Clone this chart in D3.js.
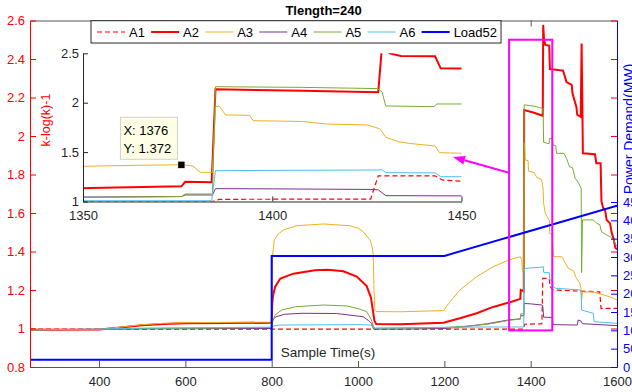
<!DOCTYPE html>
<html>
<head>
<meta charset="utf-8">
<script src="https://cdn.jsdelivr.net/npm/d3@7"></script>
<style>
  body { margin: 0; background: #fff; }
  svg { display: block; font-family: "Liberation Sans", Arial, sans-serif; }
</style>
</head>
<body>
<svg id="chart" width="632" height="392"></svg>
<script>
// series values, [sample time, value]
const a1 = [[240,0.997],[1384,0.997],[1386,1.022],[1426,1.025],[1428,1.26],[1443,1.26],[1445,1.218],[1452,1.2],
  [1560,1.19],[1563,1.105],[1600,1.105]];
const a2 = [[240,0.993],[400,0.995],[450,1.005],[500,1.017],[550,1.024],[600,1.027],[700,1.028],[800,1.03],
  [801,1.12],[803,1.17],[808,1.217],[820,1.26],[850,1.285],[900,1.302],[930,1.305],[966,1.297],[997,1.27],
  [1020,1.22],[1030,1.16],[1034,1.1],[1038,1.04],[1042,1.023],[1100,1.022],[1198,1.03],[1236,1.053],
  [1275,1.079],[1313,1.112],[1352,1.136],[1376,1.154],[1377,1.2],[1384,1.194],[1385,2.135],[1408,2.121],
  [1428,2.105],[1429,2.577],[1431,2.5],[1434,2.473],[1443,2.47],[1444.5,2.348],[1475,2.34],[1483,2.28],
  [1495,2.265],[1497,2.22],[1506,2.15],[1508,2.11],[1516,2.1],[1518,2.48],[1521,1.91],[1549,1.905],
  [1552,1.858],[1562,1.858],[1564,1.66],[1568,1.625],[1572,1.62],[1576,1.564],[1584,1.546],[1588,1.494],
  [1592,1.468],[1596,1.42],[1600,1.41]];
const a3 = [[240,0.993],[400,0.995],[450,1.007],[500,1.02],[550,1.027],[600,1.03],[700,1.032],[800,1.033],
  [801,1.25],[802,1.38],[806,1.46],[815,1.49],[827,1.512],[858,1.534],[920,1.543],[981,1.534],[1000,1.522],
  [1012,1.503],[1022,1.475],[1028,1.46],[1033,1.42],[1035,1.39],[1037,1.2],[1039,1.096],[1042,1.088],
  [1100,1.087],[1198,1.093],[1210,1.13],[1236,1.2],[1275,1.269],[1313,1.321],[1352,1.358],[1364,1.366],
  [1376,1.372],[1379,1.36],[1381,1.295],[1384.2,1.295],[1385,1.96],[1386,1.965],[1387.7,1.876],[1394,1.872],
  [1395,1.818],[1408,1.81],[1414.5,1.784],[1425,1.775],[1428,1.741],[1428.6,1.73],[1430,1.65],[1431.5,1.63],
  [1433.4,1.605],[1436,1.589],[1438.3,1.58],[1443,1.562],[1444.2,1.494],[1450,1.488],[1453,1.373],[1472,1.373],
  [1478,1.35],[1487,1.313],[1499,1.3],[1506,1.261],[1514,1.235],[1517,1.2],[1518,1.148],[1520,1.19],
  [1545,1.19],[1561,1.179],[1583,1.165],[1600,1.148]];
const a4 = [[240,0.993],[400,0.995],[500,0.998],[800,1.0],[801,1.03],[804,1.05],[810,1.061],[830,1.074],
  [870,1.079],[950,1.078],[1012,1.061],[1025,1.04],[1031,1.027],[1036,0.997],[1100,0.997],[1200,1.0],
  [1250,1.01],[1300,1.025],[1350,1.045],[1376,1.05],[1377,1.066],[1384.2,1.066],[1385,1.13],[1400,1.128],
  [1426,1.122],[1428,1.118],[1430,1.059],[1450,1.057],[1452,1.02],[1508,1.018],[1510,1.044],[1516,1.04],
  [1520,1.025],[1600,1.015]];
const a5 = [[240,0.993],[400,0.996],[500,1.0],[800,1.005],[801,1.02],[803,1.044],[808,1.07],[823,1.096],
  [855,1.113],[920,1.122],[975,1.117],[1005,1.1],[1020,1.087],[1030,1.05],[1035,1.018],[1038,1.001],
  [1100,1.002],[1200,1.005],[1250,1.012],[1300,1.022],[1350,1.042],[1376,1.05],[1377,1.076],[1384.2,1.076],
  [1385,2.162],[1408,2.155],[1427.7,2.143],[1429,2.111],[1430,1.967],[1442.7,1.96],[1443.5,1.987],
  [1450,1.987],[1452,1.953],[1458,1.95],[1460,1.91],[1477,1.91],[1483,1.884],[1490,1.84],[1497,1.835],
  [1503,1.78],[1510,1.76],[1517,1.728],[1518,1.29],[1520,1.564],[1545,1.564],[1553,1.546],[1560,1.54],
  [1564,1.503],[1576,1.486],[1584,1.477],[1592,1.46],[1600,1.425]];
const a6 = [[240,0.993],[400,0.997],[500,1.002],[800,1.007],[802,1.012],[820,1.018],[1000,1.02],[1030,1.018],
  [1036,1.003],[1040,1.002],[1200,1.006],[1300,1.008],[1384,1.008],[1385,1.312],[1428,1.319],[1429,1.322],
  [1430,1.292],[1443,1.29],[1444.5,1.251],[1450,1.251],[1452,1.217],[1458,1.209],[1515,1.2],[1517,1.18],
  [1518,1.096],[1545,1.079],[1547,1.035],[1600,1.027]];
const load52 = [[240,20],[800,20],[800,303],[1200,303],[1600,440]];   // MW, right axis

const seriesNames = ['A1', 'A2', 'A3', 'A4', 'A5', 'A6', 'Load52'];
const xTicks = [400, 600, 800, 1000, 1200, 1400, 1600];
const leftTicks = [0.8, 1, 1.2, 1.4, 1.6, 1.8, 2, 2.2, 2.4, 2.6];
const rightTicks = [0, 50, 100, 150, 200, 250, 300, 350, 400, 450];
const insetXTicks = [1350, 1400, 1450];
const insetYTicks = [1, 1.5, 2, 2.5];
const tip = [1376, 1.372];
const zoomBox = [1350, 1450, 0.99, 2.5];
const arrowFrom = [1352, 1.808], arrowTo = [1220, 1.891];

const seriesStyle = [
  { color: '#ff0000', width: 1.2, dash: '5,3' },
  { color: '#ff0000', width: 2 },
  { color: '#EDB120', width: 1 },
  { color: '#7E2F8E', width: 1 },
  { color: '#77AC30', width: 1 },
  { color: '#4DBEEE', width: 1 },
  { color: '#0000ff', width: 2 }
];
const seriesData = [a1, a2, a3, a4, a5, a6];

const svg = d3.select('#chart');
const m = { left: 30, right: 617, top: 20.5, bottom: 367 };
const x = d3.scaleLinear().domain([240, 1600]).range([m.left, m.right]);
const y = d3.scaleLinear().domain([0.8, 2.6]).range([m.bottom, m.top]);
const yR = d3.scaleLinear().domain([0, 945]).range([m.bottom, m.top]);

const defs = svg.append('defs');
defs.append('clipPath').attr('id', 'mainClip').append('rect')
  .attr('x', m.left).attr('y', m.top).attr('width', m.right - m.left).attr('height', m.bottom - m.top);

// main lines
const gMain = svg.append('g').attr('clip-path', 'url(#mainClip)');
const line = d3.line().x(d => x(d[0])).y(d => y(d[1]));
const lineR = d3.line().x(d => x(d[0])).y(d => yR(d[1]));
seriesData.forEach((s, i) => {
  gMain.append('path').attr('d', line(s)).attr('fill', 'none')
    .attr('stroke', seriesStyle[i].color).attr('stroke-width', seriesStyle[i].width)
    .attr('stroke-dasharray', seriesStyle[i].dash || null);
});
gMain.append('path').attr('d', lineR(load52)).attr('fill', 'none')
  .attr('stroke', seriesStyle[6].color).attr('stroke-width', seriesStyle[6].width);

// axes of the main plot
function styleAxis(g, color, size) {
  g.selectAll('path.domain').attr('stroke', color);
  g.selectAll('.tick line').attr('stroke', color);
  g.selectAll('.tick text').attr('fill', color).style('font-size', size + 'px')
    .style('font-family', '"Liberation Sans", Arial, sans-serif');
}
const gx = svg.append('g').attr('transform', `translate(0,${m.bottom})`)
  .call(d3.axisBottom(x).tickValues(xTicks).tickSize(-6).tickSizeOuter(0).tickPadding(10)
    .tickFormat(d3.format('d')));
styleAxis(gx, '#555', 13);
gx.selectAll('.tick text').attr('fill', '#262626');
const gTop = svg.append('g').attr('transform', `translate(0,${m.top})`)
  .call(d3.axisTop(x).tickValues(xTicks).tickSize(-6).tickSizeOuter(0).tickFormat(''));
styleAxis(gTop, '#555', 13);

const gRedMirror = svg.append('g').attr('transform', `translate(${m.right},0)`)
  .call(d3.axisRight(y).tickValues(leftTicks).tickSize(-6).tickSizeOuter(0).tickFormat(''));
styleAxis(gRedMirror, '#ff0000', 13);
const gyL = svg.append('g').attr('transform', `translate(${m.left},0)`)
  .call(d3.axisLeft(y).tickValues(leftTicks).tickSize(-6).tickSizeOuter(0).tickPadding(5)
    .tickFormat(d3.format('~g')));
styleAxis(gyL, '#ff0000', 13);
const gyR = svg.append('g').attr('transform', `translate(${m.right},0)`)
  .call(d3.axisRight(yR).tickValues(rightTicks).tickSize(-6).tickSizeOuter(0).tickPadding(6)
    .tickFormat(d3.format('d')));
styleAxis(gyR, '#0000ff', 13);

// labels
svg.append('text').attr('x', (m.left + m.right) / 2).attr('y', 15).attr('text-anchor', 'middle')
  .style('font-size', '13px').style('font-weight', 'bold').attr('fill', '#000').text('Tlength=240');
svg.append('text').attr('transform', 'translate(50,120) rotate(-90)').attr('text-anchor', 'middle')
  .style('font-size', '12.5px').attr('fill', '#ff0000').text('k-log(k)-1');
svg.append('text').attr('transform', 'translate(634,129) rotate(-90)').attr('text-anchor', 'middle')
  .style('font-size', '14px').attr('fill', '#0000ff').text('Power Demand(MW)');
svg.append('text').attr('x', 328).attr('y', 357).attr('text-anchor', 'middle')
  .style('font-size', '13.5px').attr('fill', '#262626').text('Sample Time(s)');

// magenta zoom box
svg.append('rect')
  .attr('x', x(zoomBox[0])).attr('y', y(zoomBox[3]))
  .attr('width', x(zoomBox[1]) - x(zoomBox[0])).attr('height', y(zoomBox[2]) - y(zoomBox[3]))
  .attr('fill', 'none').attr('stroke', '#ff00ff').attr('stroke-width', 2);

// inset
const im = { left: 83, right: 461.5, top: 53.3, bottom: 201.5 };
const xI = d3.scaleLinear().domain([1350, 1450]).range([im.left, im.right]);
const yI = d3.scaleLinear().domain([1, 2.5]).range([im.bottom, im.top]);
defs.append('clipPath').attr('id', 'insetClip').append('rect')
  .attr('x', im.left).attr('y', im.top).attr('width', im.right - im.left).attr('height', im.bottom - im.top);
svg.append('rect').attr('x', im.left).attr('y', im.top)
  .attr('width', im.right - im.left).attr('height', im.bottom - im.top).attr('fill', '#fff');
const gIn = svg.append('g').attr('clip-path', 'url(#insetClip)');
const lineI = d3.line().x(d => xI(d[0])).y(d => yI(d[1]));
seriesData.forEach((s, i) => {
  gIn.append('path').attr('d', lineI(s)).attr('fill', 'none')
    .attr('stroke', seriesStyle[i].color).attr('stroke-width', seriesStyle[i].width)
    .attr('stroke-dasharray', seriesStyle[i].dash || null);
});
const gxI = svg.append('g').attr('transform', `translate(0,${im.bottom})`)
  .call(d3.axisBottom(xI).tickValues(insetXTicks).tickSize(-5).tickSizeOuter(0).tickPadding(9)
    .tickFormat(d3.format('d')));
styleAxis(gxI, '#262626', 13);
const gyI = svg.append('g').attr('transform', `translate(${im.left},0)`)
  .call(d3.axisLeft(yI).tickValues(insetYTicks).tickSize(-5).tickSizeOuter(0).tickPadding(4)
    .tickFormat(d3.format('~g')));
styleAxis(gyI, '#262626', 13);

// arrow from the zoom box to the inset
const p0 = [x(arrowFrom[0]), y(arrowFrom[1])], p1 = [x(arrowTo[0]), y(arrowTo[1])];
const ang = Math.atan2(p1[1] - p0[1], p1[0] - p0[0]);
const hl = 12, hw = 4.5;
const base = [p1[0] - hl * Math.cos(ang), p1[1] - hl * Math.sin(ang)];
svg.append('line').attr('x1', p0[0]).attr('y1', p0[1]).attr('x2', base[0]).attr('y2', base[1])
  .attr('stroke', '#ff00ff').attr('stroke-width', 2);
svg.append('path').attr('fill', '#ff00ff').attr('d',
  `M${p1[0]},${p1[1]} L${base[0] + hw * Math.sin(ang)},${base[1] - hw * Math.cos(ang)} ` +
  `L${base[0] - hw * Math.sin(ang)},${base[1] + hw * Math.cos(ang)} Z`);

// data tip
const tx = xI(tip[0]), ty = yI(tip[1]);
svg.append('rect').attr('x', tx - 61).attr('y', ty - 47.5).attr('width', 57).attr('height', 42)
  .attr('fill', '#ffffe6').attr('stroke', '#cfcfcf');
svg.append('text').attr('x', tx - 58).attr('y', ty - 30).style('font-size', '13px').attr('fill', '#000')
  .text('X: ' + tip[0]);
svg.append('text').attr('x', tx - 58).attr('y', ty - 11.5).style('font-size', '13px').attr('fill', '#000')
  .text('Y: ' + tip[1]);
svg.append('rect').attr('x', tx - 3.5).attr('y', ty - 3.5).attr('width', 7).attr('height', 7)
  .attr('fill', '#000').attr('stroke', '#fff').attr('stroke-width', 0.5);

// legend
const leg = svg.append('g');
const legBox = leg.append('rect').attr('x', 91).attr('y', 20.7).attr('height', 22.3)
  .attr('fill', '#fff').attr('stroke', '#262626').attr('stroke-width', 1);
let cx = 97;
seriesNames.forEach((name, i) => {
  leg.append('line').attr('x1', cx).attr('x2', cx + 28).attr('y1', 32).attr('y2', 32)
    .attr('stroke', seriesStyle[i].color).attr('stroke-width', seriesStyle[i].width)
    .attr('stroke-dasharray', seriesStyle[i].dash || null);
  const t = leg.append('text').attr('x', cx + 32).attr('y', 36.5).style('font-size', '13px')
    .attr('fill', '#000').text(name);
  cx += 32 + t.node().getComputedTextLength() + 6.2;
});
legBox.attr('width', cx - 6.2 + 4 - 91);
</script>
</body>
</html>
